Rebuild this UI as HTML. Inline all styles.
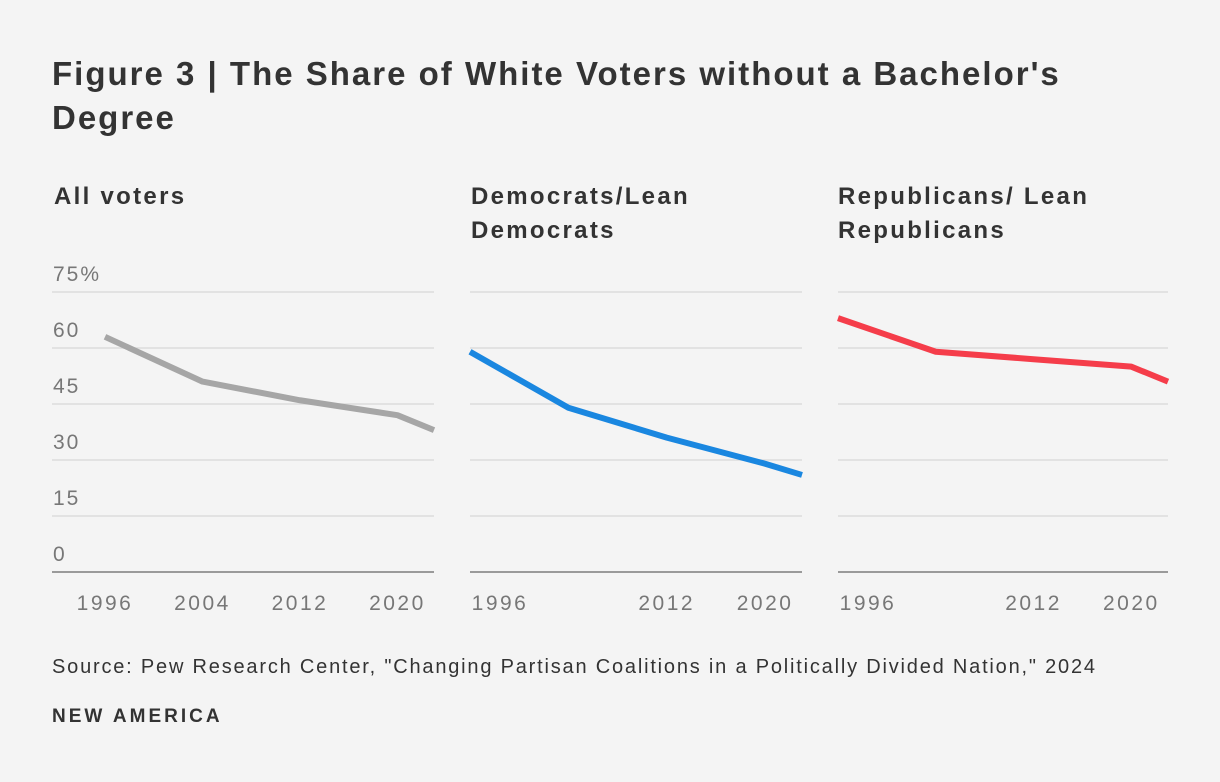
<!DOCTYPE html>
<html><head><meta charset="utf-8"><style>
body{margin:0;background:#f4f4f4;width:1220px;height:782px;overflow:hidden;font-family:"Liberation Sans",sans-serif;color:#333}
.t{position:absolute;font-weight:bold}
</style></head><body>
<div class="t" style="left:52px;top:52px;font-size:33px;letter-spacing:2px;line-height:44px;width:1060px">Figure 3 | The Share of White Voters without a Bachelor's Degree</div>
<div class="t" style="left:54px;top:180px;font-size:24px;letter-spacing:2.3px;line-height:34px">All voters</div>
<div class="t" style="left:471px;top:180px;font-size:24px;letter-spacing:2.3px;line-height:34px">Democrats/Lean<br>Democrats</div>
<div class="t" style="left:838px;top:180px;font-size:24px;letter-spacing:2.3px;line-height:34px">Republicans/ Lean<br>Republicans</div>
<svg id="c" width="1220" height="782" style="position:absolute;left:0;top:0"></svg>
<div style="position:absolute;left:52px;top:656px;font-size:20px;letter-spacing:1.8px">Source: Pew Research Center, "Changing Partisan Coalitions in a Politically Divided Nation," 2024</div>
<div class="t" style="left:52px;top:706px;font-size:19px;letter-spacing:3px">NEW AMERICA</div>
<script>
const years=[1996,2004,2012,2020,2023];
const allVoters=[63,51,46,42,38];
const democrats=[59,44,36,29,26];
const republicans=[68,59,57,55,51];
const yTicks=[0,15,30,45,60,75];
const yTickLabels=["0","15","30","45","60","75%"];
const panels=[
 {name:'all',x0:52,x1:434,d:allVoters,color:'#a6a6a6',xt:[1996,2004,2012,2020],yl:true},
 {name:'dem',x0:470,x1:802,d:democrats,color:'#1a87e0',xt:[1996,2012,2020]},
 {name:'rep',x0:838,x1:1168,d:republicans,color:'#f53d4a',xt:[1996,2012,2020]}];
const ns='http://www.w3.org/2000/svg',svg=document.getElementById('c');
const y=v=>572-v*(280/75);
function mk(t,a){const e=document.createElementNS(ns,t);for(const k in a)e.setAttribute(k,a[k]);svg.appendChild(e);return e;}
panels.forEach(p=>{
 const xs=yr=>p.x1-(2023-yr)*((p.x1-(p.name==='all'?105:p.x0))/27);
 yTicks.forEach((t,i)=>{
  const l=mk('line',{x1:p.x0,x2:p.x1,y1:y(t),y2:y(t),stroke:t===0?'#9a9a9a':'#dcdcdc','stroke-width':t===0?2:1.5});
  
  
  if(p.yl){const tx=mk('text',{x:53,y:y(t)-11,'font-size':21,fill:'#777','letter-spacing':2,'font-family':'Liberation Sans'});tx.textContent=yTickLabels[i];
   
   }
 });
 p.xt.forEach(yr=>{let cx=xs(yr);if(cx<p.x0+30)cx=p.x0+30;
  const tx=mk('text',{x:cx,y:610,'font-size':21,fill:'#777','text-anchor':'middle','letter-spacing':2.5,'font-family':'Liberation Sans'});tx.textContent=yr;
  
  });
 const pl=mk('polyline',{points:years.map((yr,i)=>xs(yr)+','+y(p.d[i])).join(' '),fill:'none',stroke:p.color,'stroke-width':6,'stroke-linejoin':'round','stroke-linecap':'butt'});
 
 
});
</script>
</body></html>
